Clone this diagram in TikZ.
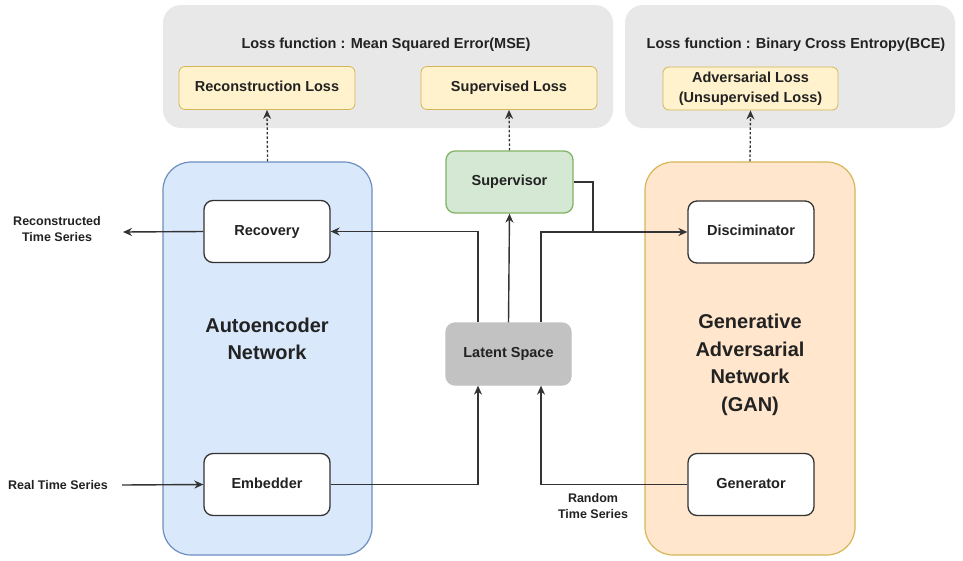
\documentclass[tikz,border=0pt]{standalone}
\usepackage{fontspec}
\setmainfont{Liberation Sans}
\usetikzlibrary{arrows.meta}
\definecolor{grpgrey}{HTML}{E8E8E8}
\definecolor{lossfill}{HTML}{FFF2CC}
\definecolor{lossdraw}{HTML}{D6B656}
\definecolor{aefill}{HTML}{DAE8FC}
\definecolor{aedraw}{HTML}{6C8EBF}
\definecolor{ganfill}{HTML}{FFE6CC}
\definecolor{gandraw}{HTML}{D6B656}
\definecolor{supfill}{HTML}{D5E8D4}
\definecolor{supdraw}{HTML}{82B366}
\definecolor{latfill}{HTML}{C2C2C2}
\definecolor{ink}{HTML}{333333}
\definecolor{txt}{HTML}{222222}
\tikzset{
  lossgroup/.style={fill=grpgrey, draw=none, rounded corners=18pt, minimum height=123pt},
  grouptitle/.style={font=\bfseries\fontsize{14.5}{18}\selectfont, text=txt},
  lossbox/.style={fill=lossfill, draw=lossdraw, line width=0.8pt, rounded corners=6pt, minimum width=176pt, minimum height=43pt, align=center, font=\bfseries\fontsize{14.5}{19.5}\selectfont, text=txt},
  netgroup/.style={rounded corners=28pt, line width=1.2pt, minimum width=210pt, minimum height=393pt},
  netbox/.style={fill=white, draw=ink, line width=1.3pt, rounded corners=9pt, minimum width=126pt, minimum height=62pt, text height=10.5pt, text depth=3pt, font=\bfseries\fontsize{14.5}{18}\selectfont, text=txt},
  biglabel/.style={align=center, font=\bfseries\fontsize{20}{27.5}\selectfont, text=txt},
  sidelabel/.style={align=center, font=\bfseries\fontsize{12.5}{16.5}\selectfont, text=txt},
  conn/.style={draw=ink, line width=1.4pt, -{Stealth[length=9pt,width=8pt]}},
  plainline/.style={draw=ink, line width=1.4pt},
  dashconn/.style={draw=ink, line width=1.3pt, dash pattern=on 2.5pt off 2pt, -{Stealth[length=9pt,width=8pt]}},
}
\begin{document}
\begin{tikzpicture}[x=1pt,y=-1pt]
\useasboundingbox (0,0) rectangle (963,560);
\fill[white] (0,0) rectangle (963,560);
% loss groups
\node[lossgroup, minimum width=450pt] (mse) at (388,66.5) {};
\node[grouptitle] (msetitle) at (386,45) {Loss function : Mean Squared Error(MSE)};
\node[lossbox, text height=10.5pt, text depth=3pt] (recloss) at (267,88) {Reconstruction Loss};
\node[lossbox, text height=10.5pt, text depth=3pt] (suploss) at (509,88) {Supervised Loss};
\node[lossgroup, minimum width=330pt] (bce) at (790,66.5) {};
\node[grouptitle] (bcetitle) at (796,45) {Loss function : Binary Cross Entropy(BCE)};
\node[lossbox, minimum width=175pt] (advloss) at (750.5,88.5) {Adversarial Loss\\(Unsupervised Loss)};
% network groups
\node[netgroup, fill=aefill, draw=aedraw, minimum width=209pt] (ae) at (267.5,358.5) {};
\node[netgroup, fill=ganfill, draw=gandraw] (gan) at (750,358.5) {};
\node[biglabel] (aelabel) at (267,339) {Autoencoder\\Network};
\node[biglabel] (ganlabel) at (750,365) {Generative\\Adversarial\\Network\\(GAN)};
% boxes
\node[netbox] (recovery) at (267,231.5) {Recovery};
\node[netbox] (embedder) at (267,484.5) {Embedder};
\node[netbox] (disc) at (751,232) {Disciminator};
\node[netbox] (generator) at (751,484.5) {Generator};
\node[netbox, fill=supfill, draw=supdraw, minimum width=127pt] (supervisor) at (509.5,182) {Supervisor};
\node[netbox, fill=latfill, draw=latfill, minimum width=125pt] (latent) at (508.5,354) {Latent Space};
% side labels
\node[sidelabel] (reclabel) at (57,229) {Reconstructed\\Time Series};
\node[sidelabel] (reallabel) at (58,485) {Real Time Series};
\node[sidelabel] (randlabel) at (593,506) {Random\\Time Series};
\coordinate (recout) at (123,232);
\coordinate (realin) at (122,485);
\coordinate (joint) at (593,232);
% dashed loss arrows
\draw[dashconn] (ae.north) -- (recloss.south);
\draw[dashconn] (supervisor.north) -- (suploss.south);
\draw[dashconn] (gan.north) -- (advloss.south);
% connectors
\draw[conn] (recovery.west) -- (recout);
\draw[conn] (realin) -- (embedder.west);
\draw[conn] ([xshift=-30.5pt]latent.north) |- (recovery.east);
\draw[conn] (latent.north) -- (supervisor.south);
\draw[conn] ([xshift=32.5pt]latent.north) |- (disc.west);
\draw[plainline] (supervisor.east) -| (joint);
\draw[conn] (embedder.east) -| ([xshift=-30.5pt]latent.south);
\draw[conn] (generator.west) -| ([xshift=32.5pt]latent.south);
\end{tikzpicture}
\end{document}
